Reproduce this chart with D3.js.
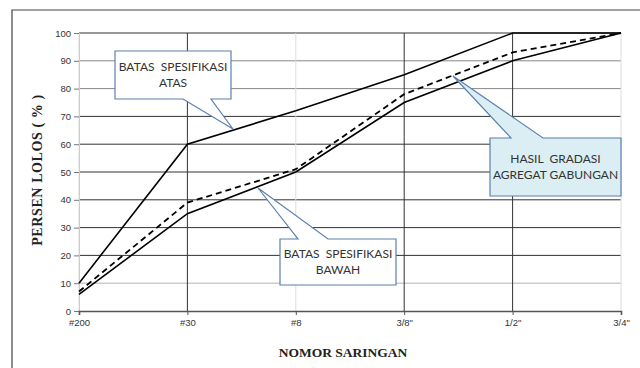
<!DOCTYPE html>
<html>
<head>
<script src="https://d3js.org/d3.v7.min.js"></script>
<style>
  html, body { margin: 0; padding: 0; background: #fff; }
  svg { display: block; }
  .tick text { font-family: Arial, "Liberation Sans", sans-serif; font-size: 9.5px; fill: #333; }
  .callout text { font-family: Lato, "Open Sans", sans-serif; font-size: 12px; fill: #333; white-space: pre; }
  .axis-title { font-family: "Liberation Serif", "Times New Roman", serif; font-weight: bold; fill: #222; }
</style>
</head>
<body>
<svg id="chart" width="640" height="368"></svg>
<script>
// sieve sizes and passing percentages
const sieves = ["#200", "#30", "#8", "3/8\"", "1/2\"", "3/4\""];
const upperSpec = [10, 60, 72, 85, 100, 100];
const lowerSpec = [6, 35, 50, 75, 90, 100];
const combined = [7, 39, 51, 78, 93, 100];
const yTicks = [0, 10, 20, 30, 40, 50, 60, 70, 80, 90, 100];

const svg = d3.select("#chart");
const plotL = 79, plotR = 621, plotT = 33, plotB = 311;

const x = d3.scalePoint().domain(sieves).range([plotL, plotR]);
const y = d3.scaleLinear().domain([0, 100]).range([plotB, plotT]);

// outer frame (top and left only visible)
svg.append("path")
  .attr("d", "M12,368 L12,10 L640,10")
  .attr("fill", "none").attr("stroke", "#444").attr("stroke-width", 1.2);

// horizontal grid lines
const darkH = [20, 30, 40, 50, 60, 70, 100];
svg.append("g").selectAll("line").data(yTicks.filter(d => d > 0)).join("line")
  .attr("x1", plotL).attr("x2", plotR)
  .attr("y1", d => y(d)).attr("y2", d => y(d))
  .attr("stroke", d => darkH.includes(d) ? "#333" : (d === 10 ? "#ccc" : "#888"))
  .attr("stroke-width", d => d === 10 ? 1.6 : 1);

// vertical grid lines
const darkV = ["#30", "3/8\"", "1/2\""];
svg.append("g").selectAll("line").data(sieves).join("line")
  .attr("x1", d => x(d)).attr("x2", d => x(d))
  .attr("y1", plotT).attr("y2", plotB)
  .attr("stroke", d => darkV.includes(d) ? "#333" : "#ddd")
  .attr("stroke-width", 1);

// y axis
const yAxis = svg.append("g")
  .attr("transform", `translate(${plotL},0)`)
  .call(d3.axisLeft(y).tickValues(yTicks).tickSize(5).tickPadding(3));
yAxis.select(".domain").attr("stroke", "#ccc");
yAxis.selectAll(".tick line").attr("stroke", "#777");

// x axis
const xAxis = svg.append("g")
  .attr("transform", `translate(0,${plotB})`)
  .call(d3.axisBottom(x).tickSize(4).tickPadding(4));
xAxis.select(".domain").attr("stroke", "#555").attr("stroke-width", 1.6);
xAxis.selectAll(".tick line").attr("stroke", "#555");

// series lines
const line = d3.line().x((d, i) => x(sieves[i])).y(d => y(d));
svg.append("path").datum(upperSpec).attr("d", line)
  .attr("fill", "none").attr("stroke", "#000").attr("stroke-width", 1.6);
svg.append("path").datum(lowerSpec).attr("d", line)
  .attr("fill", "none").attr("stroke", "#000").attr("stroke-width", 1.6);
svg.append("path").datum(combined).attr("d", line)
  .attr("fill", "none").attr("stroke", "#000").attr("stroke-width", 1.8)
  .attr("stroke-dasharray", "6,4");

// axis titles
svg.append("text").attr("class", "axis-title")
  .attr("transform", "translate(42,170) rotate(-90)")
  .style("font-size", "14px").style("letter-spacing", "0.6px")
  .attr("text-anchor", "middle").text("PERSEN LOLOS ( % )");
svg.append("text").attr("class", "axis-title")
  .attr("x", 343).attr("y", 357)
  .style("font-size", "13.5px")
  .attr("text-anchor", "middle").text("NOMOR SARINGAN");

// callouts
function callout(box, base, tip, lines, fill) {
  const [bx0, by0, bx1, by1] = box;
  let d;
  if (base.side === "bottom") {
    d = `M${bx0},${by0} L${bx1},${by0} L${bx1},${by1} L${base.b},${by1} L${tip[0]},${tip[1]} L${base.a},${by1} L${bx0},${by1} Z`;
  } else {
    d = `M${bx0},${by0} L${base.a},${by0} L${tip[0]},${tip[1]} L${base.b},${by0} L${bx1},${by0} L${bx1},${by1} L${bx0},${by1} Z`;
  }
  const g = svg.append("g").attr("class", "callout");
  g.append("path").attr("d", d).attr("fill", fill)
    .attr("stroke", "#5a7fae").attr("stroke-width", 1.2);
  const cx = (bx0 + bx1) / 2, cy = (by0 + by1) / 2;
  lines.forEach((t, i) => {
    g.append("text").attr("x", cx).attr("y", cy + (i - (lines.length - 1) / 2) * 16 + 4)
      .attr("text-anchor", "middle").text(t);
  });
}
callout([115, 51, 231, 99], {side: "bottom", a: 183, b: 211}, [233, 129],
  ["BATAS  SPESIFIKASI", "ATAS"], "#fff");
callout([280, 239, 396, 285], {side: "top", a: 298, b: 328}, [258, 188],
  ["BATAS  SPESIFIKASI", "BAWAH"], "#fff");
callout([490, 138, 621, 196], {side: "top", a: 511, b: 543}, [453, 76],
  ["HASIL  GRADASI", "AGREGAT GABUNGAN"], "#dbeef4");
</script>
</body>
</html>
